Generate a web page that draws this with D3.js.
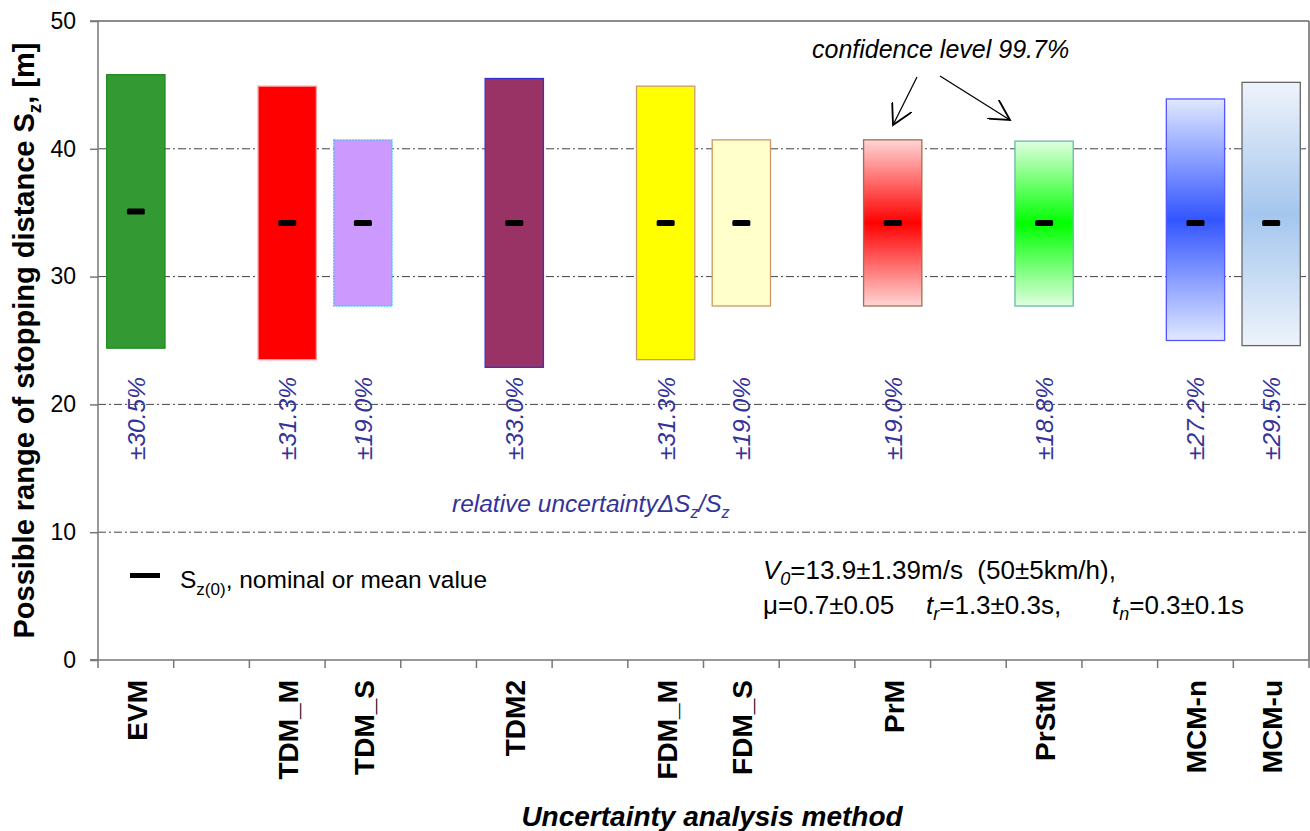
<!DOCTYPE html>
<html>
<head>
<meta charset="utf-8">
<script src="https://cdn.jsdelivr.net/npm/d3@7"></script>
<style>
  body { margin: 0; background: #fff; }
  svg { font-family: "Liberation Sans", Arial, sans-serif; }
</style>
</head>
<body>
<svg id="chart" width="1310" height="831"></svg>
<script>
// slots on the x axis (empty strings are gaps)
const slots = ["EVM", "", "TDM_M", "TDM_S", "", "TDM2", "", "FDM_M", "FDM_S", "", "PrM", "", "PrStM", "", "MCM-n", "MCM-u"];
const methods = ["EVM", "TDM_M", "TDM_S", "TDM2", "FDM_M", "FDM_S", "PrM", "PrStM", "MCM-n", "MCM-u"];
const lowValues  = [24.4, 23.5, 27.7, 22.9, 23.5, 27.7, 27.7, 27.7, 25.0, 24.6];
const highValues = [45.8, 44.9, 40.7, 45.5, 44.9, 40.7, 40.7, 40.6, 43.9, 45.2];
const meanValues = [35.1, 34.2, 34.2, 34.2, 34.2, 34.2, 34.2, 34.2, 34.2, 34.2];
const relUncert  = ["±30.5%", "±31.3%", "±19.0%", "±33.0%", "±31.3%", "±19.0%", "±19.0%", "±18.8%", "±27.2%", "±29.5%"];
const yTicks = [0, 10, 20, 30, 40, 50];

// fills: plain colour or [edge, centre] for gradient bars
const fills = ["#339933", "#ff0000", "#cc99ff", "#993366", "#ffff00", "#ffffcc",
               ["#ffd6d6", "#ff0000"], ["#e0ffe0", "#00ff00"], ["#e0e8ff", "#3355ff"], ["#eef3fb", "#a4c6ee"]];
const strokes = ["#1f8a1f", "#ff9999", "#33ccff", "#3333cc", "#cc9966", "#cc9966", "#a07050", "#66bbaa", "#5555ff", "#666666"];

const svg = d3.select("#chart");
const margin = { left: 98, right: 1, top: 21, bottom: 171 };
const W = 1310, H = 831;

const x = d3.scaleBand()
    .domain(d3.range(slots.length))
    .range([margin.left, W - margin.right])
    .paddingInner(0.23).paddingOuter(0.115);

const y = d3.scaleLinear()
    .domain([0, 50])
    .range([H - margin.bottom, margin.top]);

const defs = svg.append("defs");
fills.forEach((f, i) => {
    if (Array.isArray(f)) {
        const g = defs.append("linearGradient")
            .attr("id", "grad" + i)
            .attr("x1", 0).attr("y1", 0).attr("x2", 0).attr("y2", 1);
        g.append("stop").attr("offset", "0%").attr("stop-color", f[0]);
        g.append("stop").attr("offset", "50%").attr("stop-color", f[1]);
        g.append("stop").attr("offset", "100%").attr("stop-color", f[0]);
    }
});

// grid lines
svg.append("g")
    .selectAll("line")
    .data(yTicks.filter(d => d > 0 && d < 50))
    .enter().append("line")
    .attr("x1", margin.left).attr("x2", W - margin.right)
    .attr("y1", d => y(d)).attr("y2", d => y(d))
    .attr("stroke", "#444")
    .attr("stroke-width", 1)
    .attr("stroke-dasharray", "8,3,2,3");

// frame top and right
svg.append("line")
    .attr("x1", margin.left).attr("x2", W - margin.right)
    .attr("y1", y(50)).attr("y2", y(50))
    .attr("stroke", "#666").attr("stroke-width", 1.5);
svg.append("line")
    .attr("x1", W - margin.right).attr("x2", W - margin.right)
    .attr("y1", y(50)).attr("y2", y(0))
    .attr("stroke", "#666").attr("stroke-width", 1.5);

// y axis
const yAxis = svg.append("g")
    .attr("transform", `translate(${margin.left},0)`)
    .call(d3.axisLeft(y).tickValues(yTicks).tickSize(8).tickPadding(14));
yAxis.selectAll("text").attr("font-size", 23).attr("fill", "#000");
yAxis.selectAll("line, path").attr("stroke", "#777").attr("stroke-width", 1.5);
yAxis.select(".domain").attr("d", `M-8,${y(0)}H0V${y(50)}H-8`);

// x axis: ticks at slot boundaries
const boundaries = d3.range(slots.length + 1).map(i => margin.left + i * x.step());
svg.append("line")
    .attr("x1", margin.left - 8).attr("x2", W - margin.right)
    .attr("y1", y(0)).attr("y2", y(0))
    .attr("stroke", "#777").attr("stroke-width", 1.5);
svg.append("g").selectAll("line")
    .data(boundaries)
    .enter().append("line")
    .attr("x1", d => d).attr("x2", d => d)
    .attr("y1", y(0)).attr("y2", y(0) + 8)
    .attr("stroke", "#777").attr("stroke-width", 1.5);

// category labels
svg.append("g").selectAll("text")
    .data(slots.map((s, i) => ({ s, i })).filter(d => d.s !== ""))
    .enter().append("text")
    .attr("transform", d => `translate(${x(d.i) + x.bandwidth() / 2 + 11},${y(0) + 20}) rotate(-90)`)
    .attr("text-anchor", "end")
    .attr("font-size", 28)
    .attr("font-weight", "bold")
    .text(d => d.s);

// bars
const rows = methods.map((m, k) => ({
    m, k, slot: slots.indexOf(m),
    lo: lowValues[k], hi: highValues[k], mean: meanValues[k], rel: relUncert[k]
}));

svg.append("g").selectAll("rect")
    .data(rows)
    .enter().append("rect")
    .attr("x", d => x(d.slot))
    .attr("width", x.bandwidth())
    .attr("y", d => y(d.hi))
    .attr("height", d => y(d.lo) - y(d.hi))
    .attr("fill", d => Array.isArray(fills[d.k]) ? `url(#grad${d.k})` : fills[d.k])
    .attr("stroke", d => strokes[d.k])
    .attr("stroke-width", 1.3)
    .attr("stroke-dasharray", d => d.m === "TDM_S" ? "2,1" : null);

// mean markers
svg.append("g").selectAll("rect")
    .data(rows)
    .enter().append("rect")
    .attr("x", d => x(d.slot) + x.bandwidth() / 2 - 9)
    .attr("y", d => y(d.mean) - 3)
    .attr("width", 18).attr("height", 6)
    .attr("rx", 1.5)
    .attr("fill", "#000");

// relative uncertainty labels
svg.append("g").selectAll("text")
    .data(rows)
    .enter().append("text")
    .attr("transform", d => `translate(${x(d.slot) + x.bandwidth() / 2 + 9},${y(15.65)}) rotate(-90)`)
    .attr("font-size", 24.5)
    .attr("font-style", "italic")
    .attr("fill", "#333399")
    .text(d => d.rel);

const rel = svg.append("text")
    .attr("x", 452).attr("y", 512)
    .attr("font-size", 24.5).attr("font-style", "italic").attr("fill", "#333399");
rel.append("tspan").text("relative uncertainty\u0394S");
rel.append("tspan").attr("font-size", 16).attr("dy", 6).text("z");
rel.append("tspan").attr("dy", -6).text("/S");
rel.append("tspan").attr("font-size", 16).attr("dy", 6).text("z");

// confidence annotation
svg.append("text")
    .attr("x", 812).attr("y", 58)
    .attr("font-size", 25).attr("font-style", "italic")
    .text("confidence level 99.7%");

defs.append("marker")
    .attr("id", "arrow")
    .attr("viewBox", "0 0 12 12")
    .attr("refX", 11).attr("refY", 6)
    .attr("markerWidth", 22).attr("markerHeight", 22)
    .attr("markerUnits", "userSpaceOnUse")
    .attr("orient", "auto")
    .append("path")
    .attr("d", "M0,0L11,6L0,12")
    .attr("fill", "none").attr("stroke", "#000").attr("stroke-width", 1);
svg.append("line")
    .attr("x1", 917).attr("y1", 77).attr("x2", 893).attr("y2", 125)
    .attr("stroke", "#000").attr("stroke-width", 1.3).attr("marker-end", "url(#arrow)");
svg.append("line")
    .attr("x1", 940).attr("y1", 76).attr("x2", 1010).attr("y2", 120)
    .attr("stroke", "#000").attr("stroke-width", 1.3).attr("marker-end", "url(#arrow)");

// legend
svg.append("rect")
    .attr("x", 130).attr("y", 573).attr("width", 30).attr("height", 5).attr("fill", "#000");
const leg = svg.append("text")
    .attr("x", 180).attr("y", 588).attr("font-size", 24.5);
leg.append("tspan").text("S");
leg.append("tspan").attr("font-size", 17).attr("dy", 7).text("z(0)");
leg.append("tspan").attr("dy", -7).text(", nominal or mean value");

// parameters
const p1 = svg.append("text").attr("x", 763).attr("y", 579).attr("font-size", 26);
p1.append("tspan").attr("font-style", "italic").text("V");
p1.append("tspan").attr("font-style", "italic").attr("font-size", 18).attr("dy", 6).text("0");
p1.append("tspan").attr("dy", -6).text("=13.9\u00b11.39m/s\u00a0\u00a0(50\u00b15km/h),");

const p2 = svg.append("text").attr("x", 763).attr("y", 614).attr("font-size", 26);
p2.append("tspan").text("\u03bc=0.7\u00b10.05");
p2.append("tspan").attr("x", 926).attr("font-style", "italic").text("t");
p2.append("tspan").attr("font-style", "italic").attr("font-size", 18).attr("dy", 6).text("r");
p2.append("tspan").attr("dy", -6).text("=1.3\u00b10.3s,");
p2.append("tspan").attr("x", 1112).attr("font-style", "italic").text("t");
p2.append("tspan").attr("font-style", "italic").attr("font-size", 18).attr("dy", 6).text("n");
p2.append("tspan").attr("dy", -6).text("=0.3\u00b10.1s");

// axis titles
const yt = svg.append("text")
    .attr("transform", `translate(34,${(y(0) + y(50)) / 2}) rotate(-90)`)
    .attr("text-anchor", "middle")
    .attr("font-size", 29).attr("font-weight", "bold");
yt.append("tspan").text("Possible range of stopping distance S");
yt.append("tspan").attr("font-size", 19).attr("dy", 7).text("z");
yt.append("tspan").attr("dy", -7).text(", [m]");

svg.append("text")
    .attr("x", 712).attr("y", 826)
    .attr("text-anchor", "middle")
    .attr("font-size", 28).attr("font-weight", "bold").attr("font-style", "italic")
    .text("Uncertainty analysis method");
</script>
</body>
</html>
